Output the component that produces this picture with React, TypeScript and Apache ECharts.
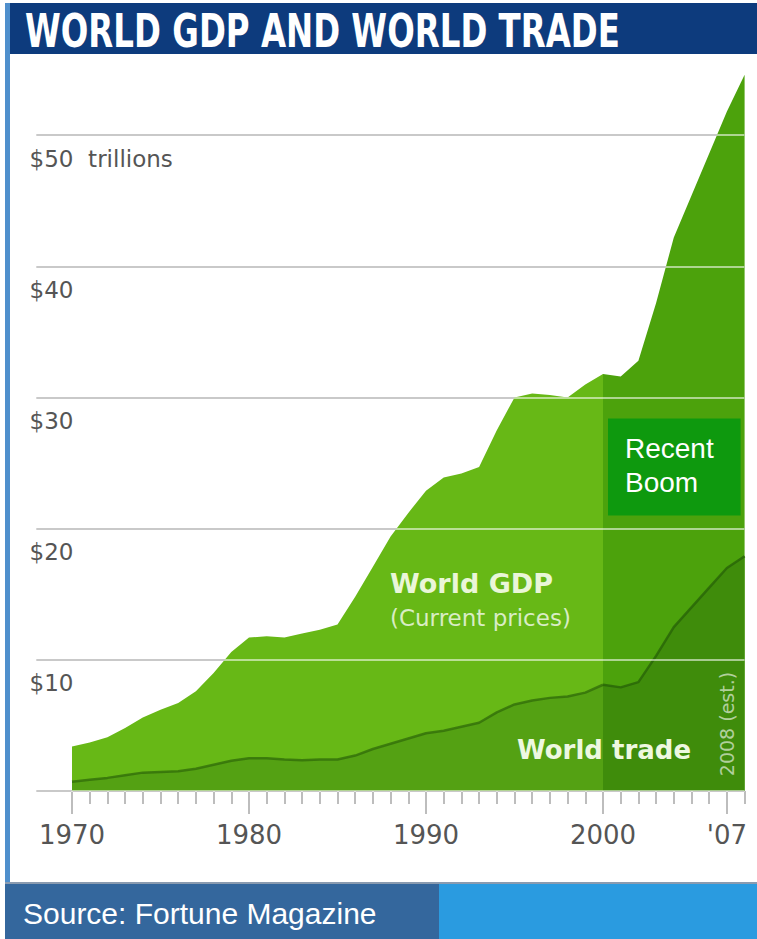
import React, { useEffect, useRef } from "react";
import * as echarts from "echarts";

const years: string[] = [];
for (let y = 1968; y <= 2008; y++) years.push(String(y));

const gdpEarlyYears = [1970, 1971, 1972, 1973, 1974, 1975, 1976, 1977, 1978, 1979, 1980, 1981, 1982, 1983, 1984, 1985, 1986, 1987, 1988, 1989, 1990, 1991, 1992, 1993, 1994, 1995, 1996, 1997, 1998, 1999, 2000];
const gdpEarly = [3.4, 3.7, 4.1, 4.8, 5.6, 6.2, 6.7, 7.6, 9.0, 10.6, 11.7, 11.8, 11.7, 12.0, 12.3, 12.7, 14.8, 17.1, 19.4, 21.2, 22.9, 23.9, 24.2, 24.7, 27.5, 30.0, 30.3, 30.2, 30.0, 31.0, 31.8];
const boomYears = [2000, 2001, 2002, 2003, 2004, 2005, 2006, 2007, 2008];
const gdpBoom = [31.8, 31.6, 32.8, 37.2, 42.2, 45.4, 48.6, 51.8, 54.6];
const tradeEarly = [0.7, 0.85, 1.0, 1.2, 1.4, 1.45, 1.5, 1.7, 2.0, 2.3, 2.5, 2.5, 2.4, 2.35, 2.4, 2.4, 2.7, 3.2, 3.6, 4.0, 4.4, 4.6, 4.9, 5.2, 6.0, 6.6, 6.9, 7.1, 7.2, 7.5, 8.1];
const tradeBoom = [8.1, 7.9, 8.3, 10.3, 12.5, 14.0, 15.5, 17.0, 17.9];

const majorYears = ["1970", "1980", "1990", "2000", "2007"];
const yTickLabels: Record<number, string> = { 10: "$10", 20: "$20", 30: "$30", 40: "$40", 50: "$50  trillions" };
// "Recent Boom" box extent in data terms
const boomBox = { fromYear: "2000", toYear: "2008", top: 28.4, bottom: 21 };

function align(ys: number[], vals: number[]) {
  return years.map((y) => {
    const i = ys.indexOf(+y);
    return i >= 0 ? vals[i] : "-";
  });
}

function measure(text: string, font: string) {
  const ctx = document.createElement("canvas").getContext("2d")!;
  ctx.font = font;
  return ctx.measureText(text).width;
}

export default function App() {
  const ref = useRef<HTMLDivElement>(null);
  useEffect(() => {
    const chart = echarts.init(ref.current!, null, { renderer: "svg" });
    const titleText = "WORLD GDP AND WORLD TRADE";
    const titleFont = 'bold 46px "DejaVu Sans Condensed", "DejaVu Sans"';
    const tw = measure(titleText, titleFont) || 595;
    const titleScale = 595 / tw;

    const areaSeries = (name: string, data: any[], color: string, line: any) => ({
      name,
      type: "line",
      data,
      symbol: "none",
      silent: true,
      lineStyle: line,
      areaStyle: { color, opacity: 1 },
      z: 2,
    });

    chart.setOption({
      animation: false,
      backgroundColor: "#ffffff",
      grid: { left: 36.6, right: 12.4, top: 4, bottom: 148 },
      xAxis: [
        {
          type: "category",
          data: years,
          boundaryGap: false,
          position: "bottom",
          offset: 3,
          axisLine: { show: false },
          axisTick: { interval: (i: number, v: string) => +v >= 1970, length: 13, lineStyle: { color: "#bdbdbd", width: 2 } },
          axisLabel: { show: false },
          splitLine: { show: false },
        },
        {
          type: "category",
          data: years,
          boundaryGap: false,
          position: "bottom",
          offset: 3,
          axisLine: { show: false },
          axisTick: { interval: (i: number, v: string) => majorYears.includes(v), length: 23, lineStyle: { color: "#bdbdbd", width: 2 } },
          axisLabel: {
            interval: (i: number, v: string) => majorYears.includes(v),
            formatter: (v: string) => (v === "2007" ? "'07" : v),
            fontSize: 26,
            color: "#555555",
            fontFamily: "DejaVu Sans",
            margin: 28,
          },
          splitLine: { show: false },
        },
      ],
      yAxis: [
        {
          type: "value",
          min: 0,
          max: 60,
          interval: 10,
          offset: 7,
          axisLine: { show: false },
          axisTick: { show: false },
          splitLine: { lineStyle: { color: "#888888", width: 2 } },
          axisLabel: {
            inside: true,
            margin: 0,
            verticalAlign: "top",
            padding: [12, 0, 0, 0],
            formatter: (v: number) => yTickLabels[v] || "",
            fontSize: 23,
            color: "#555555",
            fontFamily: "DejaVu Sans",
          },
        },
        {
          type: "value",
          min: 0,
          max: 60,
          interval: 10,
          z: 5,
          axisLine: { show: false },
          axisTick: { show: false },
          axisLabel: { show: false },
          splitLine: { lineStyle: { color: "rgba(255,255,255,0.55)", width: 2 } },
        },
      ],
      series: [
        areaSeries("World GDP", align(gdpEarlyYears, gdpEarly), "#67b816", { width: 0 }),
        areaSeries("World GDP boom", align(boomYears, gdpBoom), "#4ca20c", { width: 0 }),
        areaSeries("World trade", align(gdpEarlyYears, tradeEarly), "#54a113", { width: 2.5, color: "rgba(50,110,10,0.8)" }),
        areaSeries("World trade boom", align(boomYears, tradeBoom), "#3f8c0b", { width: 2.5, color: "rgba(40,100,8,0.8)" }),
      ],
    });

    const p1 = chart.convertToPixel({ xAxisIndex: 0, yAxisIndex: 0 }, [boomBox.fromYear, boomBox.top]) as number[];
    const p2 = chart.convertToPixel({ xAxisIndex: 0, yAxisIndex: 0 }, [boomBox.toYear, boomBox.bottom]) as number[];
    const bx = p1[0] + 5;
    const bw = p2[0] - 4 - bx;
    const by = p1[1];
    const bh = p2[1] - p1[1];

    chart.setOption({
      graphic: [
        { type: "rect", z: 100, shape: { x: 5, y: 3, width: 5, height: 880 }, style: { fill: "#4f8fcc" } },
        { type: "rect", z: 100, shape: { x: 10, y: 3, width: 747, height: 51 }, style: { fill: "#0d3b7d" } },
        {
          type: "text",
          z: 101,
          x: 25,
          y: 31,
          scaleX: titleScale,
          style: { text: titleText, font: titleFont, fill: "#ffffff", textAlign: "left", textVerticalAlign: "middle" },
        },
        { type: "rect", z: 100, shape: { x: 5, y: 882, width: 752, height: 2 }, style: { fill: "#8a9bb0" } },
        { type: "rect", z: 100, shape: { x: 5, y: 884, width: 434, height: 55 }, style: { fill: "#34679d" } },
        { type: "rect", z: 100, shape: { x: 439, y: 884, width: 318, height: 55 }, style: { fill: "#2a9be0" } },
        {
          type: "text",
          z: 101,
          x: 23,
          y: 913,
          style: { text: "Source: Fortune Magazine", font: '30px "Liberation Sans"', fill: "#ffffff", textAlign: "left", textVerticalAlign: "middle" },
        },
        { type: "rect", z: 50, shape: { x: bx, y: by, width: bw, height: bh }, style: { fill: "#0e990e" } },
        {
          type: "text",
          z: 51,
          x: bx + 17,
          y: by + 30,
          style: { text: "Recent", font: '28px "Liberation Sans"', fill: "#ffffff", textAlign: "left", textVerticalAlign: "middle" },
        },
        {
          type: "text",
          z: 51,
          x: bx + 17,
          y: by + 64,
          style: { text: "Boom", font: '28px "Liberation Sans"', fill: "#ffffff", textAlign: "left", textVerticalAlign: "middle" },
        },
        {
          type: "text",
          z: 50,
          x: 390,
          y: 583,
          style: { text: "World GDP", font: 'bold 27px "DejaVu Sans"', fill: "#eaf6d8", textAlign: "left", textVerticalAlign: "middle" },
        },
        {
          type: "text",
          z: 50,
          x: 390,
          y: 618,
          style: { text: "(Current prices)", font: '23px "DejaVu Sans"', fill: "rgba(255,255,255,0.75)", textAlign: "left", textVerticalAlign: "middle" },
        },
        {
          type: "text",
          z: 50,
          x: 517,
          y: 750,
          style: { text: "World trade", font: 'bold 26px "DejaVu Sans"', fill: "#eef8e0", textAlign: "left", textVerticalAlign: "middle" },
        },
        {
          type: "text",
          z: 50,
          x: 727,
          y: 724,
          rotation: Math.PI / 2,
          style: { text: "2008 (est.)", font: '19px "DejaVu Sans"', fill: "rgba(255,255,255,0.6)", textAlign: "center", textVerticalAlign: "middle" },
        },
      ],
    });
    return () => chart.dispose();
  }, []);
  return <div ref={ref} style={{ position: "absolute", left: 0, top: 0, width: 757, height: 939, background: "#fff" }} />;
}
